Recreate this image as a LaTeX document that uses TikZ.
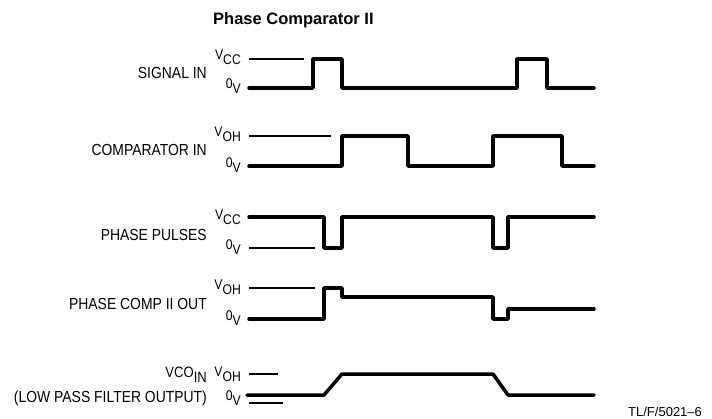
\documentclass[tikz,border=0pt]{standalone}
\usepackage{fontspec}
\setmainfont{Liberation Sans}
\newfontfamily\condfont[FakeStretch=0.87]{Liberation Sans}
\newcommand\levtxt[2]{#1\raisebox{-5.5pt}{#2}}
\begin{document}
\begin{tikzpicture}[x=1pt,y=-1pt,
  wave/.style={line width=3.5pt,line cap=round,line join=round},
  refl/.style={line width=1.1pt},
  lbl/.style={anchor=base east,inner sep=0pt,font=\condfont\fontsize{16}{17}\selectfont},
  lvl/.style={anchor=base east,inner sep=0pt,font=\condfont\fontsize{14}{15}\selectfont}]
\useasboundingbox (0,0) rectangle (712,418);
\node[anchor=base west,inner sep=0pt,font=\fontsize{16.5}{18}\selectfont\bfseries] (title) at (213,24) {Phase Comparator II};
% row labels
\node[lbl] (l1) at (207,78) {SIGNAL IN};
\node[lbl] (l2) at (207,155) {COMPARATOR IN};
\node[lbl] (l3) at (207,240) {PHASE PULSES};
\node[lbl] (l4) at (207,309) {PHASE COMP II OUT};
\node[lvl,font=\condfont\fontsize{15}{16}\selectfont] (l5) at (207,377) {\levtxt{VCO}{IN}};
\node[lbl] (l6) at (207,402) {(LOW PASS FILTER OUTPUT)};
% level labels
\node[lvl] (a1) at (241,59) {\levtxt{V}{CC}};
\node[lvl] (a2) at (241,88) {\levtxt{0}{V}};
\node[lvl] (b1) at (241,136) {\levtxt{V}{OH}};
\node[lvl] (b2) at (241,167) {\levtxt{0}{V}};
\node[lvl] (c1) at (241,219) {\levtxt{V}{CC}};
\node[lvl] (c2) at (241,249) {\levtxt{0}{V}};
\node[lvl] (d1) at (241,289) {\levtxt{V}{OH}};
\node[lvl] (d2) at (241,320) {\levtxt{0}{V}};
\node[lvl] (e1) at (241,376) {\levtxt{V}{OH}};
\node[lvl] (e2) at (241,400) {\levtxt{0}{V}};
% signal in
\draw[refl] (249,59) -- (304,59);
\draw[wave] (249,88) -- (313,88) -- (313,59) -- (342,59) -- (342,88) -- (517,88) -- (517,59) -- (547,59) -- (547,88) -- (594,88);
% comparator in
\draw[refl] (249,136) -- (331,136);
\draw[wave] (249,166) -- (342,166) -- (342,136) -- (408,136) -- (408,166) -- (493,166) -- (493,136) -- (562,136) -- (562,166) -- (594,166);
% phase pulses
\draw[refl] (249,248) -- (315,248);
\draw[wave] (249,217) -- (324,217) -- (324,248) -- (342,248) -- (342,217) -- (493,217) -- (493,248) -- (508,248) -- (508,217) -- (594,217);
% phase comp II out
\draw[refl] (249,288) -- (315,288);
\draw[wave] (249,319) -- (324,319) -- (324,288) -- (342,288) -- (342,297) -- (493,297) -- (493,319) -- (508,319) -- (508,309) -- (594,309);
% vco in
\draw[refl] (249,374) -- (278,374);
\draw[refl] (249,403) -- (283,403);
\draw[wave] (247,395) -- (324,395) -- (342,374) -- (493,374) -- (508,395) -- (594,395);
% footer
\node[anchor=base west,inner sep=0pt,font=\fontsize{13}{14}\selectfont] (ref) at (628,416) {TL/F/5021--6};
\end{tikzpicture}
\end{document}
